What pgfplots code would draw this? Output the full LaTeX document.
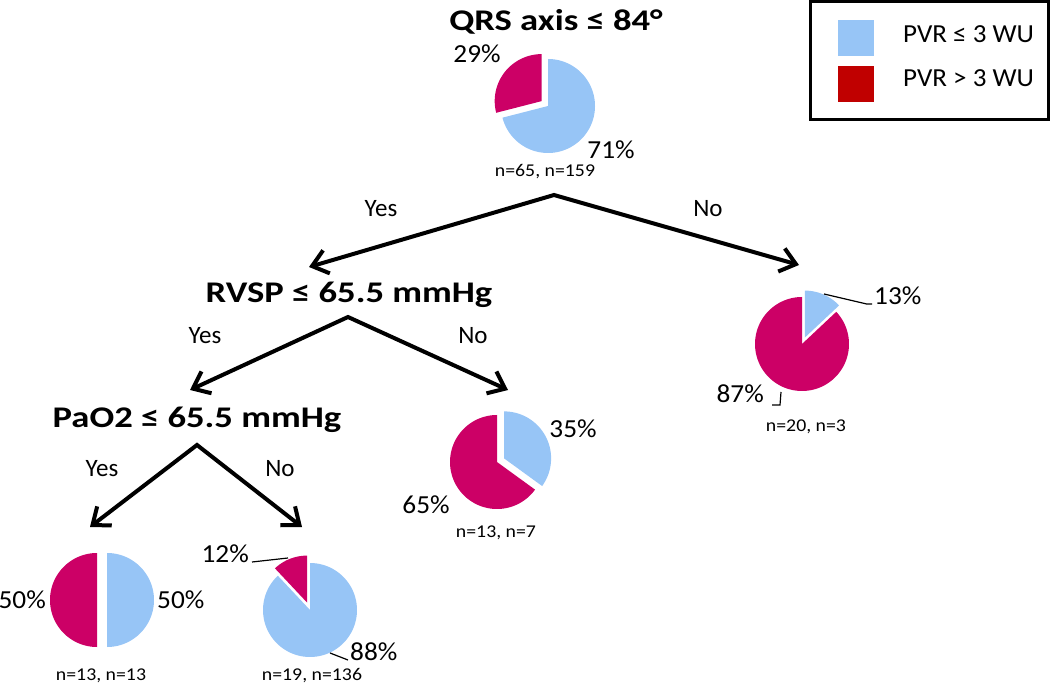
\documentclass[border=0pt]{standalone}
\usepackage{fontspec}
\setmainfont{Carlito}
\usepackage{graphicx}
\usepackage{pgfplots}
\pgfplotsset{compat=1.18}
\usetikzlibrary{arrows.meta}
\definecolor{pvrlow}{HTML}{97C5F6}
\definecolor{pvrhigh}{HTML}{CC0066}
\definecolor{legred}{HTML}{C00000}
% #1 cx, #2 cy (centre of the slice), #3 start angle, #4 end angle, #5 colour
\newcommand{\pieslice}[5]{%
  \addplot[fill=#5, draw=none, domain=#3:#4, samples=120, variable=\t, forget plot]
    ({#1+47*cos(\t)},{#2-47*sin(\t)}) -- (axis cs:#1,#2) -- cycle;}
\newcommand{\titlefont}{\fontsize{30}{36}\selectfont\bfseries}
\newcommand{\yesfont}{\fontsize{25}{30}\selectfont}
\newcommand{\pctfont}{\fontsize{26}{31}\selectfont}
\newcommand{\nfont}{\fontsize{18}{22}\selectfont}
\newcommand{\ttl}[1]{\scalebox{1.22}[1]{#1}}
\newcommand{\pct}[1]{\scalebox{1.05}[1]{#1}}
\newcommand{\nn}[1]{\scalebox{1.1}[1]{#1}}
\tikzset{arr/.style={line width=4pt, line join=miter,
  {Straight Barb[length=15pt,width=24pt]}-{Straight Barb[length=15pt,width=24pt]}}}
\begin{document}
\begin{tikzpicture}
\begin{axis}[
  width=1050pt, height=684pt, scale only axis,
  xmin=0, xmax=1050, ymin=0, ymax=684, y dir=reverse,
  hide axis, clip=false]
% ---- pie 1: QRS axis <= 84 : 71% low, 29% high
\pieslice{548}{106}{90-3.6*71}{90}{pvrlow}
\pieslice{541.7}{101.1}{90}{90+3.6*29}{pvrhigh}
% ---- pie 2: No branch : 13% low, 87% high
\pieslice{804.8}{337.6}{90-3.6*13}{90}{pvrlow}
\pieslice{802}{344}{90}{90+3.6*87}{pvrhigh}
% ---- pie 3: RVSP No : 35% low, 65% high
\pieslice{504.1}{458.4}{90-3.6*35}{90}{pvrlow}
\pieslice{497}{462}{90}{90+3.6*65}{pvrhigh}
% ---- pie 4: PaO2 Yes : 50% / 50%
\pieslice{107}{600}{90-3.6*50}{90}{pvrlow}
\pieslice{97}{600}{90}{90+3.6*50}{pvrhigh}
% ---- pie 5: PaO2 No : 88% low, 12% high
\pieslice{310}{610}{90-3.6*88}{90}{pvrlow}
\pieslice{307.1}{602.6}{90}{90+3.6*12}{pvrhigh}

% titles
\node[font=\titlefont, anchor=base] at (axis cs:556,31) {\ttl{QRS axis ≤ 84°}};
\node[font=\titlefont, anchor=base] at (axis cs:349,303) {\ttl{RVSP ≤ 65.5 mmHg}};
\node[font=\titlefont, anchor=base] at (axis cs:197,428) {\ttl{PaO2 ≤ 65.5 mmHg}};
% arrows
\draw[arr] (axis cs:309,267) -- (axis cs:554,195) -- (axis cs:799,265);
\draw[arr] (axis cs:190,390) -- (axis cs:348,317) -- (axis cs:508,390);
\draw[arr] (axis cs:90,527) -- (axis cs:197,445) -- (axis cs:302,527);
% yes / no
\node[font=\yesfont, anchor=base] at (axis cs:381,217) {Yes};
\node[font=\yesfont, anchor=base] at (axis cs:708,217) {No};
\node[font=\yesfont, anchor=base] at (axis cs:205,344) {Yes};
\node[font=\yesfont, anchor=base] at (axis cs:473,344) {No};
\node[font=\yesfont, anchor=base] at (axis cs:102,477) {Yes};
\node[font=\yesfont, anchor=base] at (axis cs:280,477) {No};
% percentages
\node[font=\pctfont, anchor=base] at (axis cs:477,63) {\pct{29\%}};
\node[font=\pctfont, anchor=base] at (axis cs:611,159) {\pct{71\%}};
\node[font=\nfont, anchor=base] at (axis cs:545,177) {\nn{n=65, n=159}};

\node[font=\pctfont, anchor=base west, inner sep=0pt] at (axis cs:874,305) {\pct{13\%}};
\node[font=\pctfont, anchor=base east, inner sep=0pt] at (axis cs:764,403) {\pct{87\%}};
\node[font=\nfont, anchor=base] at (axis cs:806,432) {\nn{n=20, n=3}};
\draw[line width=1.2pt] (axis cs:824,294) -- (axis cs:866.7,304) -- (axis cs:872,304);
\draw[line width=1.2pt] (axis cs:781,392) -- (axis cs:780,405) -- (axis cs:772,405);

\node[font=\pctfont, anchor=base] at (axis cs:573,438) {\pct{35\%}};
\node[font=\pctfont, anchor=base] at (axis cs:426,513) {\pct{65\%}};
\node[font=\nfont, anchor=base] at (axis cs:496,537) {\nn{n=13, n=7}};

\node[font=\pctfont, anchor=base east, inner sep=0pt] at (axis cs:46,608) {\pct{50\%}};
\node[font=\pctfont, anchor=base west, inner sep=0pt] at (axis cs:157,608) {\pct{50\%}};
\node[font=\nfont, anchor=base] at (axis cs:101,680) {\nn{n=13, n=13}};

\node[font=\pctfont, anchor=base east, inner sep=0pt] at (axis cs:249,562) {\pct{12\%}};
\node[font=\pctfont, anchor=base west, inner sep=0pt] at (axis cs:350,660) {\pct{88\%}};
\node[font=\nfont, anchor=base] at (axis cs:312,680) {\nn{n=19, n=136}};
\draw[line width=1.2pt] (axis cs:252,562) -- (axis cs:288,558);
\draw[line width=1.2pt] (axis cs:330,653) -- (axis cs:348,660);

% legend
\draw[line width=3pt] (axis cs:810,2) rectangle (axis cs:1048,120);
\fill[pvrlow] (axis cs:838,20) rectangle (axis cs:874,56);
\fill[legred] (axis cs:838,66) rectangle (axis cs:874,102);
\node[font=\pctfont, anchor=base west, inner sep=0pt] at (axis cs:903,43) {\scalebox{1.04}[1]{PVR ≤ 3 WU}};
\node[font=\pctfont, anchor=base west, inner sep=0pt] at (axis cs:903,87) {\scalebox{1.04}[1]{PVR > 3 WU}};
\end{axis}
\pgfresetboundingbox
\path (current axis.south west) rectangle (current axis.north east);
\end{tikzpicture}
\end{document}
